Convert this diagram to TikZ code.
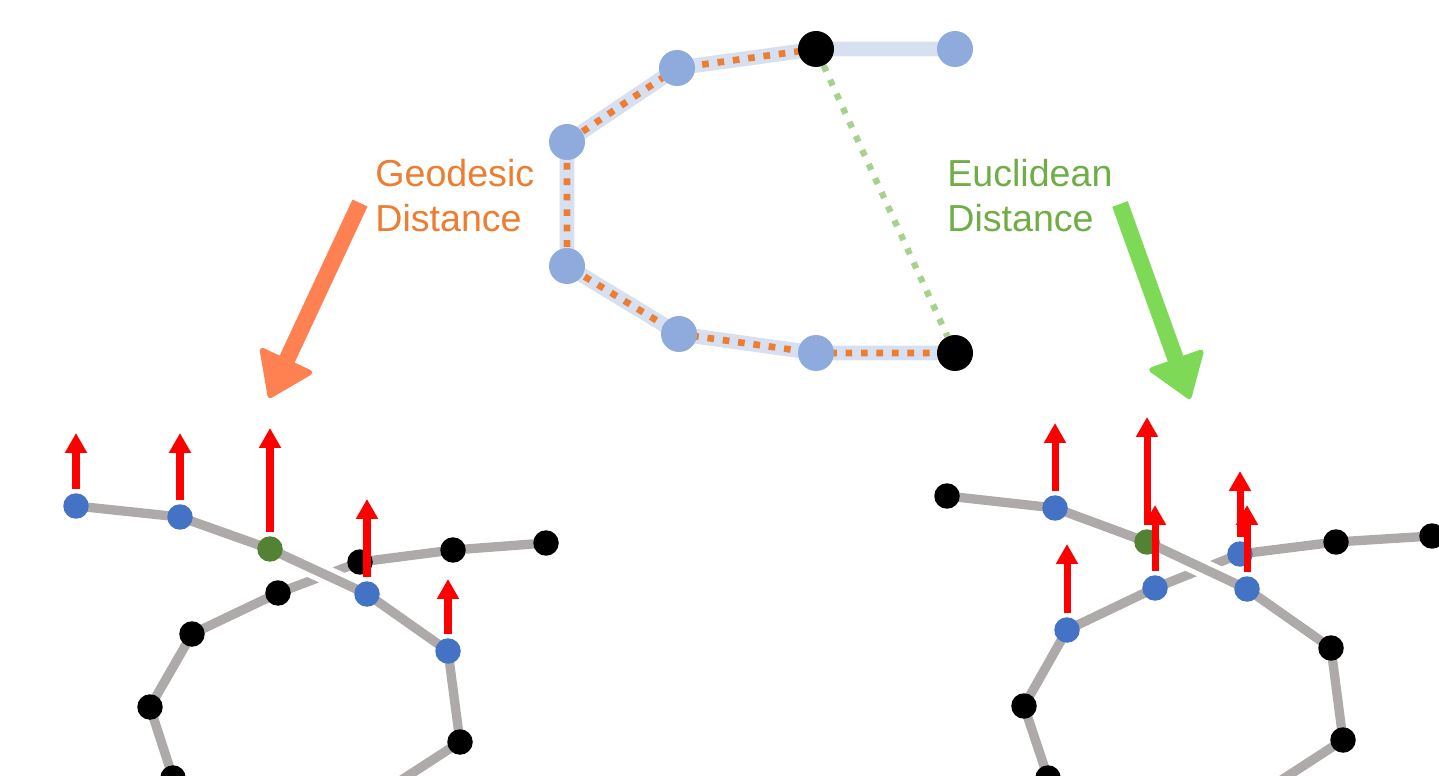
\documentclass[tikz,border=0pt]{standalone}
\usepackage{fontspec}
\setmainfont{Liberation Sans}
\usepackage{tikz}
\usetikzlibrary{arrows.meta,backgrounds}

\definecolor{beadblue}{RGB}{143,170,220}
\definecolor{backblue}{RGB}{214,224,241}
\definecolor{geoorange}{RGB}{237,125,49}
\definecolor{eucgreen}{RGB}{112,173,71}
\definecolor{dotgreen}{RGB}{169,209,142}
\definecolor{bondgray}{RGB}{174,170,170}
\definecolor{atomblue}{RGB}{68,114,196}
\definecolor{atomgreen}{RGB}{84,130,53}
\definecolor{arrorange}{RGB}{255,128,80}
\definecolor{arrgreen}{RGB}{126,217,87}

\begin{document}
\begin{tikzpicture}[%
  x=0.02cm, y=-0.02cm,
  bead/.style={circle,fill=beadblue,inner sep=0pt,minimum size=0.72cm},
  endbead/.style={bead,fill=black},
  atom/.style={circle,fill=black,inner sep=0pt,minimum size=0.51cm},
  hitatom/.style={atom,fill=atomblue},
  midatom/.style={atom,fill=atomgreen},
  backbone/.style={draw=backblue,line width=8.4pt,line join=round},
  geopath/.style={draw=geoorange,line width=3.8pt,dash pattern=on 3.8pt off 5pt},
  eucpath/.style={draw=dotgreen,line width=3.6pt,dash pattern=on 3.6pt off 5.2pt},
  bond/.style={draw=bondgray,line width=5.3pt,line join=round},
  bondgap/.style={draw=white,line width=11pt},
  force/.style={draw=red,line width=4pt,-{Triangle[length=0.4cm,width=0.42cm]}},
  bigarrow/.style={line width=9.4pt,-{Triangle[length=0.9cm,width=1.22cm,line width=3pt,round]}},
  distlabel/.style={font=\fontsize{21.4}{25.6}\selectfont,align=left,anchor=west,inner sep=0pt}
  ]
  \useasboundingbox (0,0) rectangle (1439,776);

  \node[bead] (t1) at (955,49) {};
  \node[endbead] (t2) at (816,49) {};
  \node[bead] (t3) at (677,68) {};
  \node[bead] (t4) at (567,142) {};
  \node[bead] (t5) at (567,266) {};
  \node[bead] (t6) at (679,334) {};
  \node[bead] (t7) at (816,353) {};
  \node[endbead] (t8) at (955,353) {};

  \node[distlabel,text=geoorange] (geo) at (375,196) {Geodesic\\Distance};
  \node[distlabel,text=eucgreen] (euc) at (947,196) {Euclidean\\Distance};

  \coordinate (geotail) at (360,203);
  \coordinate (geohead) at (269,398);
  \coordinate (euctail) at (1120,204);
  \coordinate (euchead) at (1190,399);
  \draw[bigarrow,draw=arrorange] (geotail) -- (geohead);
  \draw[bigarrow,draw=arrgreen] (euctail) -- (euchead);

  \node[hitatom] (l1) at (76,506) {};
  \node[hitatom] (l2) at (180,517) {};
  \node[midatom] (l3) at (270,549) {};
  \node[hitatom] (l4) at (367,594) {};
  \node[hitatom] (l5) at (448,651) {};
  \node[atom] (l6) at (460,742) {};
  \coordinate (l7) at (380,794);
  \node[atom] (m1) at (546,543) {};
  \node[atom] (m2) at (453,550) {};
  \node[atom] (m3) at (360,562) {};
  \node[atom] (m4) at (278,593) {};
  \node[atom] (m5) at (192,634) {};
  \node[atom] (m6) at (150,707) {};
  \node[atom] (m7) at (173,778) {};

  \node[atom] (r1) at (947,496) {};
  \node[hitatom] (r2) at (1055,508) {};
  \node[midatom] (r3) at (1147,542) {};
  \node[hitatom] (r4) at (1247,589) {};
  \node[atom] (r5) at (1331,648) {};
  \node[atom] (r6) at (1343,740) {};
  \coordinate (r7) at (1260,794);
  \node[atom] (s1) at (1432,536) {};
  \node[atom] (s2) at (1336,542) {};
  \node[hitatom] (s3) at (1240,554) {};
  \node[hitatom] (s4) at (1155,588) {};
  \node[hitatom] (s5) at (1067,630) {};
  \node[atom] (s6) at (1024,706) {};
  \node[atom] (s7) at (1048,778) {};

  \begin{pgfonlayer}{background}
    \draw[backbone] (t1.center) -- (t2.center) -- (t3.center) -- (t4.center)
      -- (t5.center) -- (t6.center) -- (t7.center) -- (t8.center);
    \draw[geopath] (t2.center) -- (t3.center) -- (t4.center) -- (t5.center)
      -- (t6.center) -- (t7.center) -- (t8.center);
    \draw[eucpath] (t2) -- (t8);

    \draw[bond] (m1.center) -- (m2.center) -- (m3.center) -- (m4.center)
      -- (m5.center) -- (m6.center) -- (m7.center);
    \draw[bondgap] (l3.center) -- (l4.center);
    \draw[bond] (l1.center) -- (l2.center) -- (l3.center) -- (l4.center)
      -- (l5.center) -- (l6.center) -- (l7);

    \draw[bond] (s1.center) -- (s2.center) -- (s3.center) -- (s4.center)
      -- (s5.center) -- (s6.center) -- (s7.center);
    \draw[bondgap] (r3.center) -- (r4.center);
    \draw[bond] (r1.center) -- (r2.center) -- (r3.center) -- (r4.center)
      -- (r5.center) -- (r6.center) -- (r7);
  \end{pgfonlayer}

  \foreach \n/\t in {l1/433,l2/433,l3/428,l4/499,l5/579,
                     r2/423,r3/417,s5/544,s4/505,s3/471,r4/505}
    \draw[force] ([yshift=2pt]\n.north) -- (\n |- 0,\t);
\end{tikzpicture}
\end{document}
